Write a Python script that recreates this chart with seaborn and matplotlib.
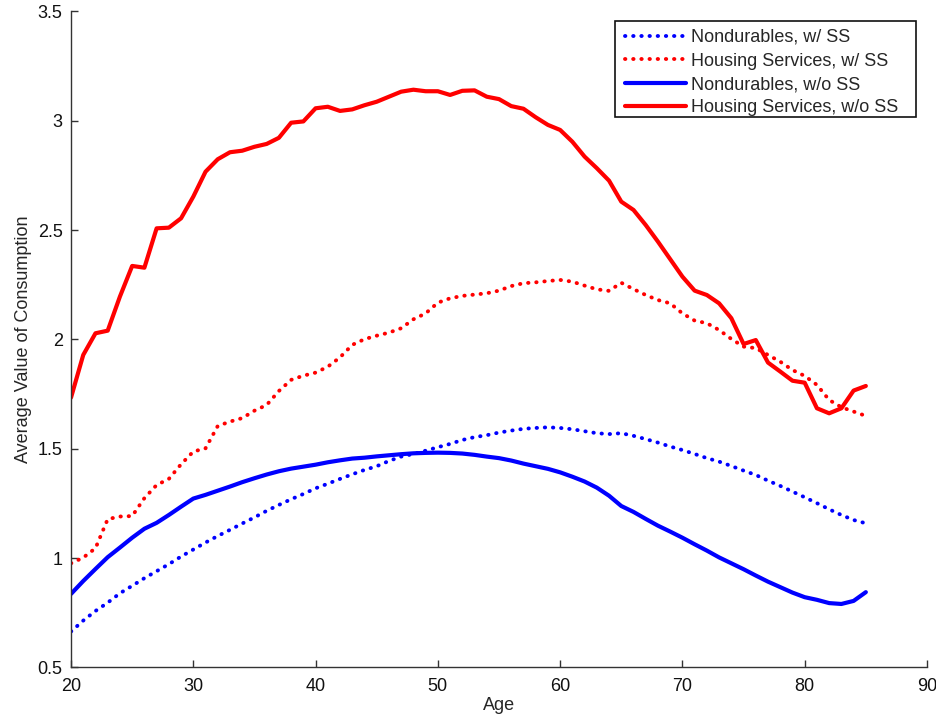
import numpy as np
import pandas as pd
import matplotlib
matplotlib.use("Agg")
import matplotlib.pyplot as plt
from matplotlib.patches import Rectangle
import seaborn as sns

# Age grid
ages = list(range(20, 86))

# Average consumption by age
nondurables_ss = [
    0.664, 0.714, 0.758, 0.796, 0.839, 0.873, 0.908, 0.940, 0.972, 1.007,
    1.039, 1.071, 1.101, 1.129, 1.158, 1.186, 1.216, 1.243, 1.269, 1.293,
    1.319, 1.340, 1.362, 1.383, 1.403, 1.420, 1.444, 1.464, 1.476, 1.491,
    1.507, 1.522, 1.540, 1.553, 1.562, 1.574, 1.583, 1.591, 1.595, 1.598,
    1.595, 1.589, 1.580, 1.571, 1.567, 1.571, 1.559, 1.544, 1.528, 1.510,
    1.494, 1.476, 1.457, 1.441, 1.421, 1.400, 1.380, 1.354, 1.330, 1.304,
    1.278, 1.251, 1.223, 1.197, 1.174, 1.159,
]
housing_ss = [
    0.976, 1.002, 1.045, 1.178, 1.190, 1.192, 1.274, 1.334, 1.362, 1.429,
    1.487, 1.502, 1.604, 1.624, 1.640, 1.674, 1.700, 1.764, 1.815, 1.834,
    1.848, 1.875, 1.918, 1.975, 2.001, 2.017, 2.031, 2.051, 2.092, 2.119,
    2.168, 2.188, 2.199, 2.205, 2.211, 2.223, 2.244, 2.257, 2.261, 2.267,
    2.272, 2.264, 2.246, 2.229, 2.222, 2.259, 2.230, 2.203, 2.180, 2.165,
    2.119, 2.086, 2.074, 2.043, 2.002, 1.967, 1.960, 1.929, 1.898, 1.860,
    1.833, 1.792, 1.723, 1.690, 1.670, 1.650,
]
nondurables_no_ss = [
    0.836, 0.895, 0.950, 1.004, 1.048, 1.093, 1.134, 1.161, 1.197, 1.235,
    1.272, 1.289, 1.308, 1.327, 1.347, 1.365, 1.382, 1.397, 1.409, 1.418,
    1.427, 1.438, 1.447, 1.455, 1.459, 1.465, 1.470, 1.475, 1.479, 1.481,
    1.482, 1.481, 1.478, 1.472, 1.464, 1.457, 1.446, 1.432, 1.420, 1.408,
    1.392, 1.372, 1.350, 1.322, 1.285, 1.238, 1.211, 1.179, 1.148, 1.121,
    1.093, 1.063, 1.034, 1.003, 0.976, 0.949, 0.920, 0.892, 0.867, 0.842,
    0.821, 0.809, 0.794, 0.790, 0.804, 0.844,
]
housing_no_ss = [
    1.734, 1.929, 2.028, 2.040, 2.196, 2.336, 2.328, 2.508, 2.511, 2.554,
    2.653, 2.767, 2.824, 2.856, 2.863, 2.881, 2.894, 2.922, 2.991, 2.997,
    3.057, 3.064, 3.045, 3.052, 3.071, 3.087, 3.110, 3.133, 3.142, 3.135,
    3.135, 3.118, 3.137, 3.139, 3.110, 3.099, 3.067, 3.055, 3.016, 2.981,
    2.958, 2.904, 2.836, 2.783, 2.726, 2.630, 2.592, 2.523, 2.447, 2.367,
    2.287, 2.223, 2.203, 2.165, 2.097, 1.979, 1.997, 1.894, 1.853, 1.811,
    1.802, 1.685, 1.662, 1.685, 1.766, 1.787,
]

series_labels = [
    "Nondurables, w/ SS",
    "Housing Services, w/ SS",
    "Nondurables, w/o SS",
    "Housing Services, w/o SS",
]
series_values = [nondurables_ss, housing_ss, nondurables_no_ss, housing_no_ss]
series_colors = ["#0000ff", "#ff0000", "#0000ff", "#ff0000"]
series_dotted = [True, True, False, False]

x_ticks = [20, 30, 40, 50, 60, 70, 80, 90]
y_ticks = [0.5, 1, 1.5, 2, 2.5, 3, 3.5]
y_tick_labels = ["0.5", "1", "1.5", "2", "2.5", "3", "3.5"]

sns.set_theme(style="ticks")
plt.rcParams["font.family"] = ["Liberation Sans", "DejaVu Sans"]
plt.rcParams["xtick.direction"] = "in"
plt.rcParams["ytick.direction"] = "in"

W, H = 937, 719
fig = plt.figure(figsize=(W / 100, H / 100), dpi=100)
ax = fig.add_axes([0.0758, 0.0718, 0.9135, 0.9123])

dot_style = (0, (0.1, 2.0))
for label, vals, color, dotted in zip(series_labels, series_values,
                                      series_colors, series_dotted):
    df = pd.DataFrame({"Age": ages, "Value": vals})
    if dotted:
        sns.lineplot(data=df, x="Age", y="Value", ax=ax, color=color,
                     linewidth=2.8, linestyle=dot_style,
                     dash_capstyle="round", label=label)
    else:
        sns.lineplot(data=df, x="Age", y="Value", ax=ax, color=color,
                     linewidth=3.0, solid_joinstyle="round", label=label)

ax.set_xlim(20, 90)
ax.set_ylim(0.5, 3.5)
ax.set_xticks(x_ticks)
ax.set_xticklabels([str(t) for t in x_ticks])
ax.set_yticks(y_ticks)
ax.set_yticklabels(y_tick_labels)
ax.tick_params(axis="x", labelsize=13, length=5, width=1.0,
               color="#333333", labelcolor="#111111", pad=8)
ax.tick_params(axis="y", labelsize=13, length=5, width=1.0,
               color="#333333", labelcolor="#111111", pad=6)
ax.set_xlabel("Age", fontsize=13, labelpad=1)
ax.set_ylabel("Average Value of Consumption", fontsize=13, labelpad=4)

for side in ["top", "right"]:
    ax.spines[side].set_visible(False)
for side in ["left", "bottom"]:
    ax.spines[side].set_color("#333333")
    ax.spines[side].set_linewidth(1.0)

# Legend box (drawn separately so the frame can keep extra room on the right)
box = Rectangle((615 / W, 1 - 117 / H), (916 - 615) / W, (117 - 21) / H,
                transform=fig.transFigure, facecolor="white",
                edgecolor="#111111", linewidth=1.2, zorder=4, clip_on=False)
ax.add_patch(box)

handles = ax.get_lines()[:4]
leg = ax.legend(handles, series_labels, loc="upper left",
                bbox_to_anchor=(625 / W, 1 - 29 / H),
                bbox_transform=fig.transFigure, borderaxespad=0,
                fontsize=13, frameon=False,
                handlelength=3.4, handletextpad=0.28, labelspacing=0.36,
                borderpad=0)
leg.set_zorder(5)

fig.savefig("out.png", dpi=100, facecolor="white")
